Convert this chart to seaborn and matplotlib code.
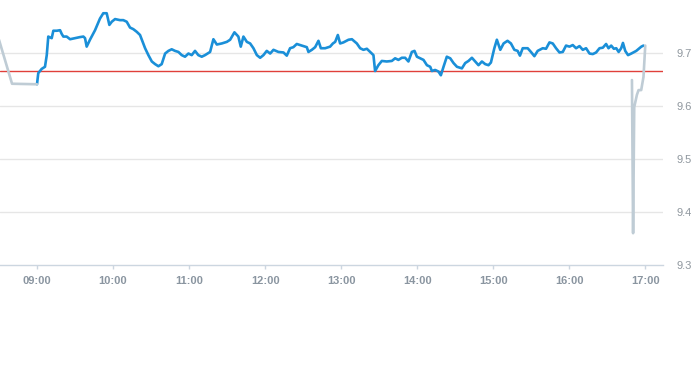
import matplotlib
matplotlib.use("Agg")
import matplotlib.pyplot as plt
import seaborn as sns
import pandas as pd
import numpy as np

# ---- data (minutes after 09:00, price) ----
main_min = [0.0, 1.0, 3.7, 6.3, 7.7, 8.9, 11.6, 12.9, 15.6, 18.2, 19.5, 20.8, 23.4, 26.1, 30.0, 33.9,
            36.6, 37.9, 39.2, 41.8, 45.8, 49.7, 52.3, 55.0, 57.1, 59.0, 61.6, 65.5, 68.1, 70.8, 73.4,
            76.0, 78.7, 81.3, 85.3, 87.9, 90.6, 93.2, 95.8, 98.4, 101.1, 103.7, 106.3, 108.9, 111.6,
            114.2, 116.8, 119.5, 122.1, 124.7, 127.3, 130.0, 132.6, 136.6, 139.2, 141.9, 145.8, 149.8,
            152.4, 155.8, 158.9, 160.8, 162.9, 165.6, 168.2, 170.8, 173.5, 176.1, 178.7, 181.3, 184.0,
            186.6, 190.5, 194.5, 197.1, 199.7, 202.3, 205.0, 209.0, 212.9, 214.2, 216.9, 219.5, 222.1,
            224.0, 227.4, 231.3, 233.5, 235.3, 237.4, 239.2, 241.8, 245.8, 248.5, 252.4, 255.0, 257.6,
            260.3, 262.9, 265.5, 266.8, 269.4, 272.1, 276.0, 280.0, 282.6, 285.2, 287.9, 290.5, 293.1,
            295.8, 297.9, 299.8, 302.4, 305.0, 307.7, 310.3, 311.6, 314.2, 316.8, 318.7, 320.8, 323.4,
            326.1, 328.7, 331.4, 335.3, 337.9, 340.5, 343.2, 345.8, 348.4, 351.1, 353.7, 356.3, 358.2,
            360.9, 362.9, 365.6, 368.2, 371.3, 374.0, 376.7, 379.3, 381.1, 383.3, 387.2, 389.8, 392.5,
            395.1, 399.1, 401.7, 404.4, 407.0, 409.6, 412.3, 414.9, 417.5, 420.2, 422.8, 425.4, 428.1,
            430.7, 433.3, 436.0, 438.6, 441.2, 443.9, 446.5, 449.1, 451.0, 453.1, 455.2, 457.1, 459.0,
            461.0, 462.4, 464.2, 466.4, 469.0, 472.9, 476.9, 478.6]
main_val = [9.641, 9.662, 9.670, 9.674, 9.696, 9.731, 9.728, 9.742, 9.742, 9.743, 9.736, 9.731, 9.731,
            9.726, 9.728, 9.730, 9.731, 9.728, 9.712, 9.725, 9.743, 9.765, 9.775, 9.775, 9.753, 9.759,
            9.764, 9.762, 9.762, 9.759, 9.748, 9.745, 9.740, 9.734, 9.709, 9.696, 9.684, 9.679, 9.675,
            9.679, 9.699, 9.704, 9.707, 9.704, 9.702, 9.696, 9.693, 9.699, 9.696, 9.704, 9.696, 9.693,
            9.696, 9.702, 9.726, 9.716, 9.718, 9.721, 9.725, 9.739, 9.731, 9.712, 9.731, 9.721, 9.718,
            9.709, 9.696, 9.691, 9.696, 9.704, 9.699, 9.706, 9.702, 9.701, 9.695, 9.709, 9.711, 9.717,
            9.714, 9.711, 9.702, 9.706, 9.711, 9.723, 9.709, 9.709, 9.712, 9.718, 9.721, 9.734, 9.718,
            9.720, 9.725, 9.726, 9.718, 9.709, 9.706, 9.708, 9.702, 9.696, 9.666, 9.677, 9.685, 9.684,
            9.685, 9.690, 9.687, 9.691, 9.691, 9.684, 9.702, 9.704, 9.693, 9.690, 9.687, 9.677, 9.674,
            9.666, 9.668, 9.665, 9.658, 9.674, 9.693, 9.690, 9.681, 9.674, 9.671, 9.681, 9.685, 9.691,
            9.684, 9.677, 9.684, 9.679, 9.677, 9.682, 9.709, 9.725, 9.706, 9.718, 9.723, 9.718, 9.706,
            9.704, 9.695, 9.709, 9.709, 9.702, 9.694, 9.704, 9.709, 9.708, 9.720, 9.718, 9.709, 9.701,
            9.702, 9.714, 9.712, 9.715, 9.709, 9.713, 9.706, 9.709, 9.699, 9.698, 9.701, 9.709, 9.710,
            9.717, 9.709, 9.714, 9.708, 9.709, 9.702, 9.709, 9.719, 9.704, 9.696, 9.699, 9.704, 9.712,
            9.714]

pre_min = [-30.0, -19.7, 0.0]
pre_val = [9.725, 9.642, 9.641]
post_min = [469.5, 470.4, 471.3, 473.4, 474.7, 476.8, 478.6, 480.0]
post_val = [9.649, 9.360, 9.598, 9.621, 9.630, 9.630, 9.655, 9.714]

ref_price = 9.666
x_tick_labels = ["09:00", "10:00", "11:00", "12:00", "13:00", "14:00", "15:00", "16:00", "17:00"]
y_ticks = [9.3, 9.4, 9.5, 9.6, 9.7]

# ---- plot ----
sns.set_theme(style="white")
plt.rcParams["font.family"] = ["Liberation Sans", "DejaVu Sans"]

fig = plt.figure(figsize=(6.93, 3.65), dpi=100)
ax = fig.add_axes([0.0, 1 - 265 / 365, 663 / 693, 265 / 365])

main_df = pd.DataFrame({"m": main_min, "v": main_val})
pre_df = pd.DataFrame({"m": pre_min, "v": pre_val})
post_df = pd.DataFrame({"m": post_min, "v": post_val})

ax.axhline(ref_price, color="#e0403a", lw=1.0, zorder=3)
sns.lineplot(data=main_df, x="m", y="v", ax=ax, color="#1a8fd8", lw=1.9,
             estimator=None, sort=False, zorder=4)
sns.lineplot(data=pre_df, x="m", y="v", ax=ax, color="#bfccd5", lw=1.9,
             estimator=None, sort=False, zorder=5)
sns.lineplot(data=post_df, x="m", y="v", ax=ax, color="#bfccd5", lw=1.9,
             estimator=None, sort=False, zorder=5)

ax.set_xlim(-29.2, 494)
ax.set_ylim(9.3, 9.8)

xt = [(int(s[:2]) - 9) * 60 + int(s[3:]) for s in x_tick_labels]
ax.set_xticks(xt)
ax.set_xticklabels(x_tick_labels, fontsize=8, fontweight="bold", color="#8a95a0")
ax.set_yticks(y_ticks)
ax.set_yticklabels([f"{t:.1f}" for t in y_ticks], fontsize=8, color="#8f979e")
ax.yaxis.tick_right()
ax.tick_params(axis="y", length=0, pad=10)
ax.tick_params(axis="x", length=3, width=1, color="#ccd6e0", pad=5, bottom=True)
for lab in ax.get_yticklabels():
    lab.set_horizontalalignment("left")

ax.grid(False)
for t in y_ticks[1:]:
    ax.axhline(t, color="#e6e6e6", lw=1.0, zorder=1)

for s in ["top", "left", "right"]:
    ax.spines[s].set_visible(False)
ax.spines["bottom"].set_color("#ccd6e0")
ax.spines["bottom"].set_linewidth(1.0)
ax.set_xlabel("")
ax.set_ylabel("")

fig.savefig("out.png", dpi=100)
